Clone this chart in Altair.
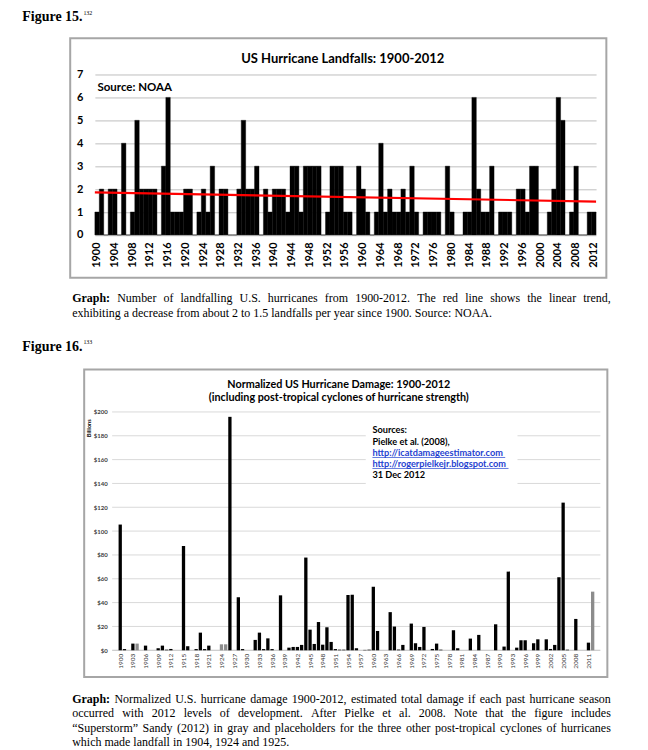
import altair as alt
import pandas as pd

# ---------------- data ----------------
years = list(range(1900, 2013))

landfalls = [
    1, 2, 0, 2, 2, 0, 4, 0, 1, 5,   # 1900s
    2, 2, 2, 2, 0, 3, 6, 1, 1, 1,   # 1910s
    2, 2, 0, 1, 2, 1, 3, 0, 2, 2,   # 1920s
    0, 0, 2, 5, 2, 2, 3, 0, 2, 1,   # 1930s
    2, 2, 2, 1, 3, 3, 1, 3, 3, 3,   # 1940s
    3, 0, 1, 3, 3, 3, 1, 1, 0, 3,   # 1950s
    2, 1, 0, 1, 4, 1, 2, 1, 1, 2,   # 1960s
    1, 3, 1, 0, 1, 1, 1, 1, 0, 3,   # 1970s
    1, 0, 0, 1, 1, 6, 2, 1, 1, 3,   # 1980s
    0, 1, 1, 1, 0, 2, 2, 1, 3, 3,   # 1990s
    0, 0, 1, 2, 6, 5, 0, 1, 3, 0,   # 2000s
    0, 1, 1,                        # 2010-2012
]

damage = [
    105.5, 1.0, 0, 5.6, 5.6, 0, 3.9, 0, 0, 1.7,          # 1900s
    3.9, 0.5, 1.1, 0, 0, 87.5, 3.4, 0, 1.0, 14.8,        # 1910s
    1.0, 3.9, 0, 0, 5.0, 5.0, 195.9, 0, 44.5, 1.0,       # 1920s
    0, 0, 8.7, 14.8, 1.0, 10.0, 1.0, 0, 46.1, 0,         # 1930s
    2.2, 2.8, 2.8, 4.5, 77.8, 17.3, 5.3, 23.7, 4.7, 19.3,  # 1940s
    7.0, 1.0, 0.5, 0.5, 46.4, 46.6, 1.7, 0, 0.3, 0.5,    # 1950s
    53.3, 16.2, 0, 0, 32.0, 19.9, 0.6, 4.5, 0, 22.4,     # 1960s
    5.9, 2.8, 19.6, 0, 1.1, 5.6, 0.5, 0, 0, 16.8,        # 1970s
    1.7, 0, 0, 9.8, 0, 12.9, 0, 0, 0, 21.8,              # 1980s
    0, 3.1, 66.0, 0, 2.2, 8.4, 8.4, 0, 5.9, 9.2,         # 1990s
    0, 9.2, 1.1, 4.5, 61.3, 123.9, 0.5, 0, 26.3, 0,      # 2000s
    0, 6.4, 49.2,                                        # 2010-2012
]
gray_years = [1904, 1924, 1925, 2012]

landfall_ticks = [0, 1, 2, 3, 4, 5, 6, 7]
landfall_year_labels = list(range(1900, 2013, 4))
damage_ticks = [0, 20, 40, 60, 80, 100, 120, 140, 160, 180, 200]
damage_year_labels = list(range(1900, 2012, 3))

caption1_justified = [
    "Number of landfalling U.S. hurricanes from 1900-2012. The red line shows the linear trend,",
]
caption1_last = "exhibiting a decrease from about 2 to 1.5 landfalls per year since 1900. Source: NOAA."
caption2_justified = [
    "Normalized U.S. hurricane damage 1900-2012, estimated total damage if each past hurricane season",
    "occurred with 2012 levels of development. After Pielke et al. 2008. Note that the figure includes",
    "\u201cSuperstorm\u201d Sandy (2012) in gray and placeholders for the three other post-tropical cyclones of hurricanes",
]
caption2_last = "which made landfall in 1904, 1924 and 1925."

df1 = pd.DataFrame({"year": years, "count": landfalls})
df2 = pd.DataFrame({
    "year": years,
    "damage": damage,
    "kind": ["gray" if y in gray_years else "black" for y in years],
})
grid2 = pd.DataFrame({"damage": damage_ticks[1:]})
base2 = pd.DataFrame({"damage": damage_ticks[:1]})
one = pd.DataFrame({"a": [0]})

W1, H1 = 502, 160.7
W2, H2 = 506.3, 238.7
SERIF = "Liberation Serif"
CAP = 12  # caption font size

# Times (Liberation Serif) advance widths, per 1000 em, for text justification
_TW = {" ": 250, ".": 250, ",": 250, ":": 278, "-": 333, "(": 333, ")": 333,
       "\u201c": 444, "\u201d": 444}
_TW.update({d: 500 for d in "0123456789"})
_TW.update(dict(zip("ABCDEFGHIJKLMNOPQRSTUVWXYZ",
                    [722, 667, 667, 722, 611, 556, 722, 722, 333, 389, 722, 611, 889,
                     722, 722, 556, 722, 667, 556, 611, 722, 722, 944, 722, 722, 611])))
_TW.update(dict(zip("abcdefghijklmnopqrstuvwxyz",
                    [444, 500, 444, 500, 444, 333, 500, 500, 278, 278, 500, 278, 778,
                     500, 500, 500, 500, 333, 389, 278, 500, 500, 722, 500, 500, 444])))
GRAPH_BOLD_W = (778 + 444 + 500 + 556 + 556 + 333) / 1000 * CAP


def tw(s):
    return sum(_TW.get(c, 500) for c in s) / 1000 * CAP


def justified_rows(lines, x0, x1, y0, dy, first_prefix):
    rows = []
    for i, line in enumerate(lines):
        words = line.split(" ")
        widths = [tw(w) for w in words]
        start = x0
        if i == 0 and first_prefix:
            widths = [GRAPH_BOLD_W] + widths
            words = [None] + words
        gap = (x1 - x0 - sum(widths)) / (len(words) - 1)
        x = start
        for w, wd in zip(words, widths):
            if w is not None:
                rows.append({"w": w, "px": round(x, 2), "py": y0 + i * dy})
            x += wd + gap
    return pd.DataFrame(rows)


def text(s, x, y, size, font="Lato", weight="bold", color="black",
         align="left", angle=None, baseline="alphabetic"):
    kw = dict(text=s, fontSize=size, font=font, fontWeight=weight,
              color=color, align=align, baseline=baseline)
    if angle is not None:
        kw["angle"] = angle
    return alt.Chart(one).mark_text(**kw).encode(x=alt.value(x), y=alt.value(y))


def words_layer(df):
    return alt.Chart(df).mark_text(font=SERIF, fontSize=CAP, align="left",
                                   baseline="alphabetic", color="black").encode(
        x=alt.X("px:Q", scale=None, axis=None),
        y=alt.Y("py:Q", scale=None, axis=None),
        text="w:N")


def box(x, x2, y, y2, **kw):
    return alt.Chart(one).mark_rect(**kw).encode(
        x=alt.value(x), x2=alt.value(x2), y=alt.value(y), y2=alt.value(y2))


def uline(x, x2, y, color):
    return alt.Chart(one).mark_rule(color=color, strokeWidth=0.7).encode(
        x=alt.value(x), x2=alt.value(x2), y=alt.value(y))


CAP_X0, CAP_X1 = -22.7, 516.8

# ---------------- Figure 15 ----------------
y1 = alt.Y("count:Q", scale=alt.Scale(domain=[0, 7], nice=False),
           axis=alt.Axis(values=landfall_ticks, title=None, ticks=False, domain=False,
                         grid=True, gridColor="#bfbfbf", gridWidth=1,
                         labelFont="Lato", labelFontWeight="bold", labelFontSize=11,
                         labelColor="black", labelPadding=12))

bars1 = alt.Chart(df1).mark_bar(color="black", stroke="black", strokeWidth=0.4).encode(
    x=alt.X("year:O", scale=alt.Scale(paddingInner=0, paddingOuter=0),
            axis=alt.Axis(values=landfall_year_labels, labelAngle=270, title=None,
                          ticks=False, domain=False, grid=False,
                          labelFont="Lato", labelFontWeight="bold", labelFontSize=11,
                          labelColor="black", labelPadding=7)),
    y=y1,
)

trend1 = alt.Chart(df1).transform_regression(
    "year", "count", extent=[1899.5, 2012.5]
).mark_line(color="#ff0000", strokeWidth=2.2).encode(
    x=alt.X("year:Q", scale=alt.Scale(domain=[1899.5, 2012.5], nice=False, zero=False),
            axis=None),
    y=y1,
)

cap1 = justified_rows(caption1_justified, CAP_X0, CAP_X1, 227.7, 15.0, True)

fig1 = alt.layer(
    box(-86.7, 545.3, -65.3, 256.7, color="white", opacity=0),
    bars1,
    trend1,
    box(-24.7, 512.3, -36.3, 203.7, fillOpacity=0, stroke="#a6a6a6", strokeWidth=2),
    text("US Hurricane Landfalls: 1900-2012", 248.3, -11.6, 13, align="center"),
    text("Source: NOAA", 2.6, 16.2, 11.5),
    text("Figure 15.", -72.7, -53.5, 14, font=SERIF),
    text("132", -11.5, -59.8, 6, font=SERIF, weight="normal"),
    text("Graph:", CAP_X0, 227.7, CAP, font=SERIF),
    words_layer(cap1),
    text(caption1_last, CAP_X0, 242.7, CAP, font=SERIF, weight="normal"),
).resolve_scale(x="independent").properties(width=W1, height=H1)

# ---------------- Figure 16 ----------------
y2 = alt.Y("damage:Q", scale=alt.Scale(domain=[0, 200], nice=False),
           axis=alt.Axis(values=damage_ticks, labelExpr="'$' + datum.value", title=None,
                         grid=False, domain=False, ticks=False, offset=-13.3,
                         labelPadding=1, labelFont="Lato", labelFontWeight="bold",
                         labelFontSize=6, labelColor="#404040"))

grid_rules = alt.Chart(grid2).mark_rule(color="#d9d9d9", strokeWidth=1).encode(
    y=y2, x=alt.value(17.3), x2=alt.value(W2))
base_rule = alt.Chart(base2).mark_rule(color="#bfbfbf", strokeWidth=1).encode(
    y=y2, x=alt.value(17.3), x2=alt.value(W2))

bars2 = alt.Chart(df2).mark_bar(size=3.3).encode(
    x=alt.X("year:Q", scale=alt.Scale(domain=[1895.17, 2012.64], nice=False, zero=False),
            axis=alt.Axis(values=damage_year_labels, format="d", labelAngle=270, title=None,
                          grid=False, domain=False, ticks=False, labelFlush=False,
                          labelOverlap=False, labelFont="Lato", labelFontSize=6.5,
                          labelColor="#333333", labelPadding=3)),
    y=y2,
    color=alt.Color("kind:N", scale=alt.Scale(domain=["black", "gray"],
                                              range=["#000000", "#8c8c8c"]), legend=None),
)

cap2 = justified_rows(caption2_justified, CAP_X0, CAP_X1, 291.4, 14.5, True)

BLUE = "#1f3fd0"
fig2 = alt.layer(
    box(-86.7, 545.3, -80.6, 331.4, color="white", opacity=0),
    grid_rules,
    base_rule,
    bars2,
    box(271.3, 423.3, 5.4, 75.4, color="white"),
    box(-10.7, 513.3, -42.6, 265.4, fillOpacity=0, stroke="#a6a6a6", strokeWidth=2),
    text("Normalized US Hurricane Damage: 1900-2012", 244.3, -24.1, 10.8, align="center"),
    text("(including post-tropical cyclones of hurricane strength)", 244.3, -11.1, 10.8,
         align="center"),
    text("Billions", -5.7, 16.4, 5.5, angle=270, align="center", baseline="middle"),
    text("Sources:", 278, 21.4, 9.2),
    text("Pielke et al. (2008),", 278, 33.1, 9.2),
    text("http://icatdamageestimator.com", 278, 44.1, 9.2, color=BLUE),
    uline(278, 411, 45.6, BLUE),
    text("http://rogerpielkejr.blogspot.com", 278, 55.1, 9.2, color=BLUE),
    uline(278, 414.3, 56.6, BLUE),
    text("31 Dec 2012", 278, 65.7, 9.2),
    text("Figure 16.", -72.7, -61.3, 14, font=SERIF),
    text("133", -11.5, -68.1, 6, font=SERIF, weight="normal"),
    text("Graph:", CAP_X0, 291.4, CAP, font=SERIF),
    words_layer(cap2),
    text(caption2_last, CAP_X0, 291.4 + 3 * 14.5, CAP, font=SERIF, weight="normal"),
).properties(width=W2, height=H2)

chart = alt.vconcat(fig1, fig2, spacing=0, padding=0).configure_view(stroke=None)

chart.save("out.html", embed_options={"renderer": "svg", "actions": False})
